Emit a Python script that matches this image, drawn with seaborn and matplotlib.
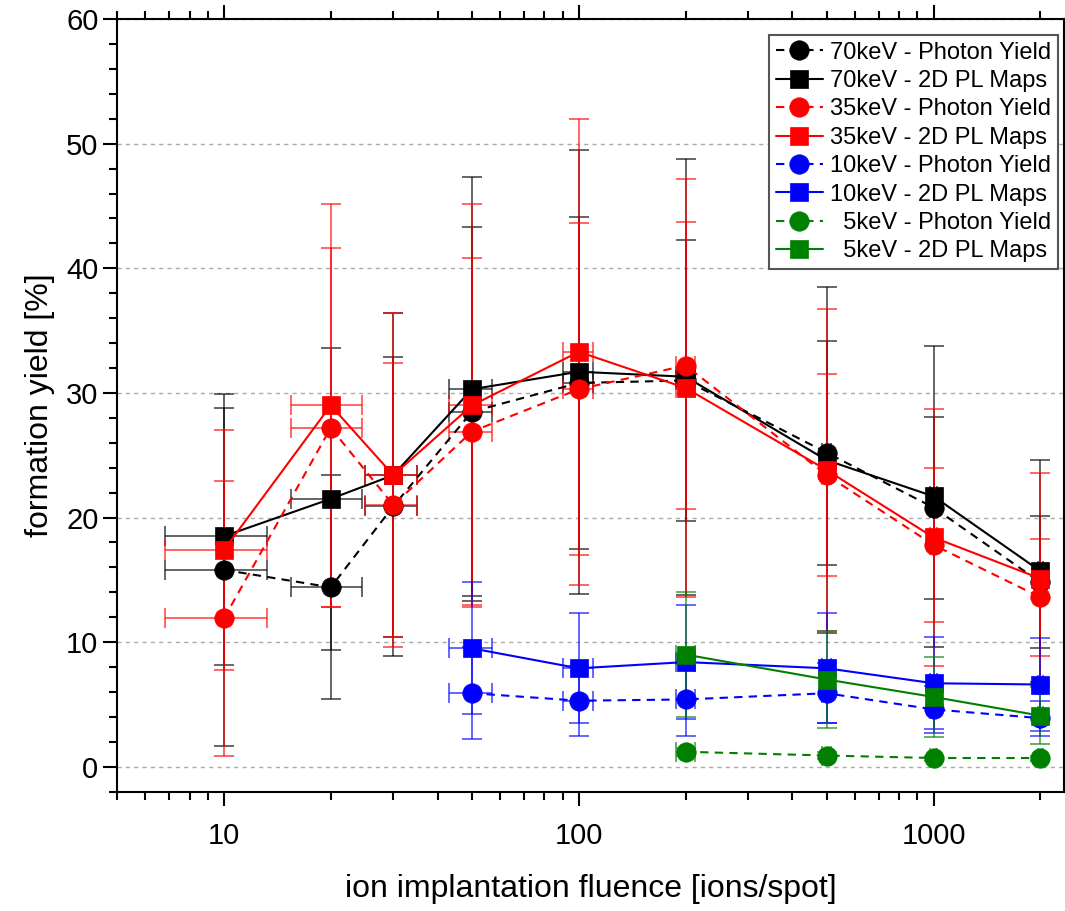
import numpy as np
import pandas as pd
import matplotlib
matplotlib.use('Agg')
import matplotlib.pyplot as plt
import matplotlib.ticker as mticker
import seaborn as sns

# Data
x_all = [10, 20, 30, 50, 100, 200, 500, 1000, 2000]
xerr_all = [3.2, 4.5, 5, 7, 10, 12, 15, 20, 30]

py70 = [15.8, 14.4, 20.9, 28.5, 30.8, 31.0, 25.2, 20.8, 14.8]
py70_err = [14.1, 9.0, 12.0, 14.8, 13.3, 11.3, 9.0, 7.3, 5.3]
pl70 = [18.5, 21.5, 23.4, 30.3, 31.7, 31.3, 24.6, 21.7, 15.7]
pl70_err = [10.3, 12.1, 13.0, 17.0, 17.8, 17.5, 13.9, 12.1, 8.9]

py35 = [11.9, 27.2, 21.0, 26.9, 30.3, 32.2, 23.4, 17.8, 13.6]
py35_err = [11.0, 14.4, 11.4, 13.9, 13.3, 11.5, 8.1, 6.2, 4.7]
pl35 = [17.4, 29.0, 23.4, 29.0, 33.3, 30.4, 23.8, 18.4, 15.1]
pl35_err = [9.6, 16.2, 13.0, 16.2, 18.7, 16.8, 12.9, 10.3, 8.5]

x10 = [50, 100, 200, 500, 1000, 2000]
xerr10 = [7, 10, 12, 15, 20, 30]
py10 = [5.9, 5.3, 5.4, 5.9, 4.6, 3.9]
py10_err = [3.7, 2.8, 2.9, 2.4, 1.9, 1.4]
pl10 = [9.5, 7.9, 8.4, 7.9, 6.7, 6.6]
pl10_err = [5.3, 4.4, 4.6, 4.4, 3.7, 3.7]

x5 = [200, 500, 1000, 2000]
xerr5 = [12, 15, 20, 30]
py5 = [1.2, 0.9, 0.7, 0.7]
py5_err = [0.3, 0.3, 0.2, 0.2]
pl5 = [9.0, 7.0, 5.6, 4.1]
pl5_err = [5.0, 3.9, 3.2, 2.3]

dashed = (0, (4, 3))
series = [
    ('70keV - Photon Yield', x_all, py70, py70_err, xerr_all, 'black', 'o', dashed),
    ('70keV - 2D PL Maps', x_all, pl70, pl70_err, xerr_all, 'black', 's', '-'),
    ('35keV - Photon Yield', x_all, py35, py35_err, xerr_all, 'red', 'o', dashed),
    ('35keV - 2D PL Maps', x_all, pl35, pl35_err, xerr_all, 'red', 's', '-'),
    ('10keV - Photon Yield', x10, py10, py10_err, xerr10, 'blue', 'o', dashed),
    ('10keV - 2D PL Maps', x10, pl10, pl10_err, xerr10, 'blue', 's', '-'),
    ('  5keV - Photon Yield', x5, py5, py5_err, xerr5, 'green', 'o', dashed),
    ('  5keV - 2D PL Maps', x5, pl5, pl5_err, xerr5, 'green', 's', '-'),
]

sns.set_style('ticks')
plt.rcParams['font.family'] = ['Liberation Sans', 'DejaVu Sans']
plt.rcParams['text.color'] = 'black'
plt.rcParams['axes.labelcolor'] = 'black'
plt.rcParams['xtick.color'] = 'black'
plt.rcParams['ytick.color'] = 'black'

fig, ax = plt.subplots(figsize=(10.65, 9.11), dpi=100)
fig.subplots_adjust(left=0.110, right=0.999, bottom=0.131, top=0.979)

# error bars first, lines and markers on top
for label, x, y, yerr, xerr, c, m, ls in series:
    ax.errorbar(x, y, yerr=yerr, xerr=xerr, fmt='none', ecolor=c,
                elinewidth=1.2, capsize=7, capthick=1.2, alpha=0.7, zorder=2)

for label, x, y, yerr, xerr, c, m, ls in series:
    ms = 14 if m == 'o' else 13
    sns.lineplot(x=x, y=y, ax=ax, color=c, marker=m, markersize=ms,
                 markeredgecolor=c, markeredgewidth=0.5, linestyle=ls,
                 linewidth=1.5, label=label, zorder=3)

ax.set_xscale('log')
ax.set_xlim(5, 2330)
ax.set_ylim(-2, 60)
ax.xaxis.set_major_formatter(mticker.FuncFormatter(lambda v, p: f'{v:g}'))
ax.xaxis.set_minor_formatter(mticker.NullFormatter())
ax.yaxis.set_major_locator(mticker.MultipleLocator(10))
ax.yaxis.set_minor_locator(mticker.MultipleLocator(2))

ax.tick_params(which='both', direction='out', top=True, right=True,
               width=1.5, labelsize=21, color='black')
ax.tick_params(which='major', length=10)
ax.tick_params(which='minor', length=6)
ax.tick_params(axis='x', which='major', pad=12)
for s in ax.spines.values():
    s.set_linewidth(1.5)
    s.set_color('black')

ax.yaxis.grid(True, linestyle=(0, (3, 3)), color='#aaaaaa', linewidth=1)
ax.set_axisbelow(True)

ax.set_xlabel('ion implantation fluence [ions/spot]', fontsize=23, labelpad=17)
ax.set_ylabel('formation yield [%]', fontsize=23, labelpad=8)

leg = ax.legend(loc='upper right', bbox_to_anchor=(0.994, 0.98), borderaxespad=0,
                fontsize=17, handlelength=2.0, handletextpad=0.3,
                labelspacing=0.27, borderpad=0.3, fancybox=False, framealpha=1)
leg.get_frame().set_edgecolor('#555555')
leg.get_frame().set_linewidth(1.5)

plt.savefig('out.png', dpi=100)
